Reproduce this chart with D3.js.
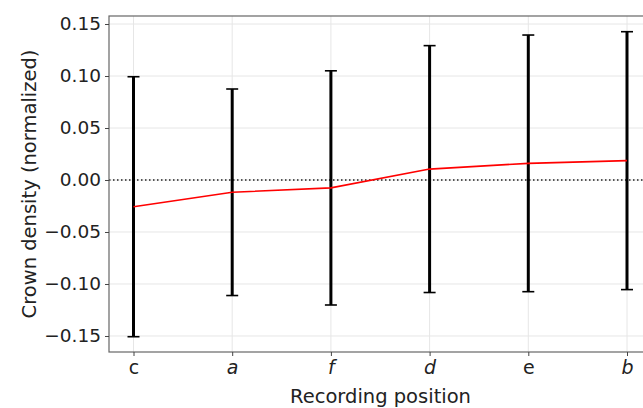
<!DOCTYPE html>
<html><head><meta charset="utf-8">
<script src="https://cdn.jsdelivr.net/npm/d3@7"></script>
<style>body{margin:0;background:#fff}svg{display:block}text{font-family:"DejaVu Sans",sans-serif;fill:#222}</style>
</head><body><svg id="c" width="643" height="408"></svg>
<script>
const categories = ["c","a","f","d","e","b"];
const italicLabels = ["a","f","d","b"];
const means = [-0.0257,-0.0118,-0.0076,0.0105,0.0160,0.0186];
const errors = [0.1250,0.0993,0.1126,0.1187,0.1234,0.1240];
const yTicks = [-0.15,-0.10,-0.05,0.00,0.05,0.10,0.15];

const svg = d3.select("#c");
const L=109, T=16, R=652, B=352;
const x = d3.scalePoint().domain(categories).range([133.5,627]);
const y = d3.scaleLinear().domain([-0.1654,0.1577]).range([B,T]);

svg.append("rect").attr("x",L).attr("y",T).attr("width",R-L).attr("height",B-T).attr("fill","#fff");
const g = svg.append("g");
// grid
g.selectAll(".gx").data(categories).enter().append("line")
 .attr("x1",d=>x(d)).attr("x2",d=>x(d)).attr("y1",T).attr("y2",B)
 .attr("stroke","#e6e6e6").attr("stroke-width",1);
g.selectAll(".gy").data(yTicks).enter().append("line")
 .attr("x1",L).attr("x2",R).attr("y1",d=>y(d)).attr("y2",d=>y(d))
 .attr("stroke","#e6e6e6").attr("stroke-width",1);
// zero line
g.append("line").attr("x1",L).attr("x2",R).attr("y1",y(0)).attr("y2",y(0))
 .attr("stroke","#222").attr("stroke-width",1.5).attr("stroke-dasharray","1.5,2.5");
// error bars
const eb = g.selectAll(".eb").data(categories).enter().append("g");
eb.append("line").attr("x1",d=>x(d)).attr("x2",d=>x(d))
 .attr("y1",(d,i)=>y(means[i]+errors[i])).attr("y2",(d,i)=>y(means[i]-errors[i]))
 .attr("stroke","#000").attr("stroke-width",3);
eb.append("line").attr("x1",d=>x(d)-6).attr("x2",d=>x(d)+6)
 .attr("y1",(d,i)=>y(means[i]+errors[i])).attr("y2",(d,i)=>y(means[i]+errors[i]))
 .attr("stroke","#000").attr("stroke-width",1.6);
eb.append("line").attr("x1",d=>x(d)-6).attr("x2",d=>x(d)+6)
 .attr("y1",(d,i)=>y(means[i]-errors[i])).attr("y2",(d,i)=>y(means[i]-errors[i]))
 .attr("stroke","#000").attr("stroke-width",1.6);
// mean line
g.append("path").datum(categories)
 .attr("d",d3.line().x(d=>x(d)).y((d,i)=>y(means[i])))
 .attr("fill","none").attr("stroke","#ff0000").attr("stroke-width",1.6);
// frame
svg.append("rect").attr("x",L).attr("y",T).attr("width",R-L).attr("height",B-T)
 .attr("fill","none").attr("stroke","#666").attr("stroke-width",1.2);
// axes
const ax = svg.append("g").attr("transform",`translate(0,${B})`)
 .call(d3.axisBottom(x).tickSize(4).tickPadding(5));
ax.select(".domain").remove();
ax.selectAll("line").attr("stroke","#444");
ax.selectAll("text").attr("font-size","19px").attr("fill","#222")
 .attr("font-style",d=>italicLabels.includes(d)?"italic":"normal");
const ay = svg.append("g").attr("transform",`translate(${L},0)`)
 .call(d3.axisLeft(y).tickValues(yTicks).tickFormat(d=>d3.format(".2f")(d).replace("-","\u2212")).tickSize(4).tickPadding(4));
ay.select(".domain").remove();
ay.selectAll("line").attr("stroke","#444");
ay.selectAll("text").attr("font-size","18.5px").attr("fill","#222");
// titles
svg.append("text").attr("x",(L+R)/2).attr("y",403).attr("text-anchor","middle")
 .attr("font-size","19.5px").text("Recording position");
svg.append("text").attr("transform",`translate(36,${(T+B)/2}) rotate(-90)`).attr("text-anchor","middle")
 .attr("font-size","19.5px").text("Crown density (normalized)");
</script></body></html>
